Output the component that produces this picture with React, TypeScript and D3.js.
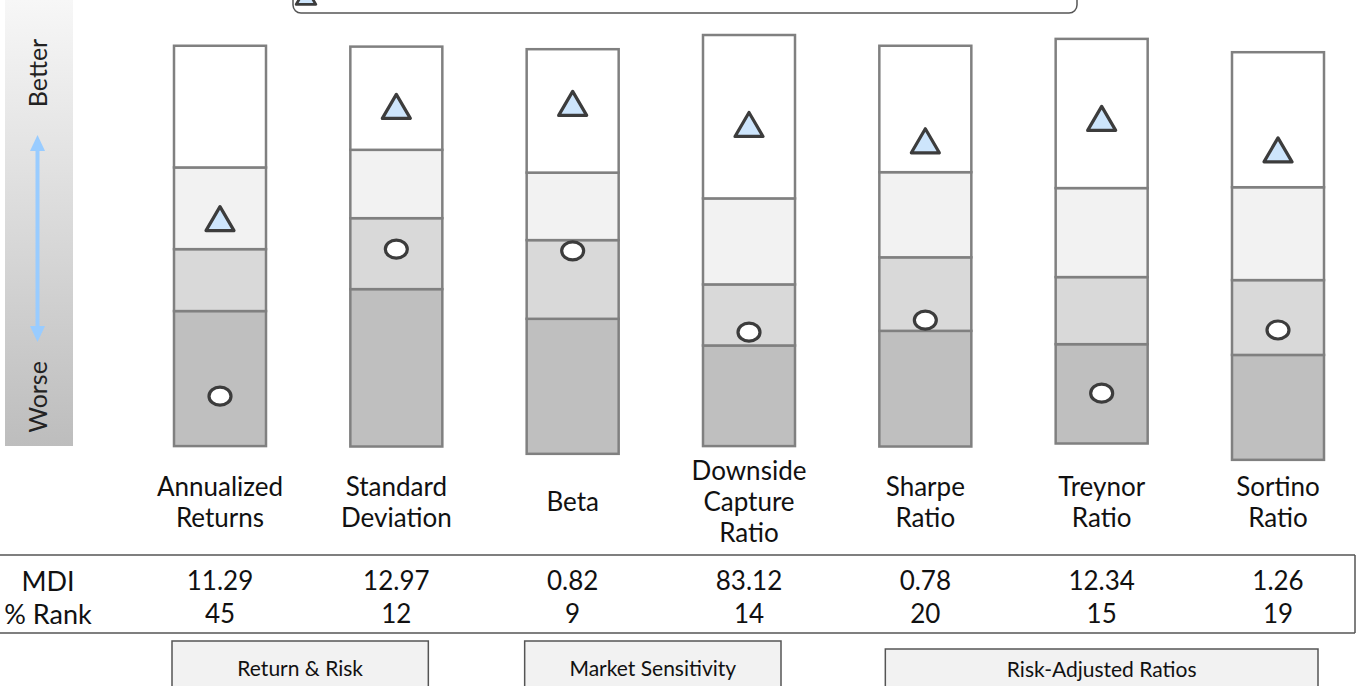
import React from "react";
import * as d3 from "d3";

// ---- Data ----
const metrics = [
  "Annualized Returns",
  "Standard Deviation",
  "Beta",
  "Downside Capture Ratio",
  "Sharpe Ratio",
  "Treynor Ratio",
  "Sortino Ratio",
];
const labelLines = [
  ["Annualized", "Returns"],
  ["Standard", "Deviation"],
  ["Beta"],
  ["Downside", "Capture", "Ratio"],
  ["Sharpe", "Ratio"],
  ["Treynor", "Ratio"],
  ["Sortino", "Ratio"],
];
// quartile band edges on a common 0–100 "better" scale
const bandBottom = [3.7, 3.6, 1.9, 3.7, 3.6, 4.3, 0.5];
const bandQ3 = [35.1, 40.2, 33.3, 27.1, 30.5, 27.4, 24.9];
const bandQ2 = [49.5, 56.7, 51.6, 41.3, 47.6, 43.0, 42.3];
const bandQ1 = [68.5, 72.6, 67.3, 61.3, 67.4, 63.7, 63.9];
const bandTop = [96.8, 96.6, 96.0, 99.3, 96.8, 98.4, 95.3];
const fundPos = [56.6, 82.7, 83.4, 78.5, 74.7, 79.9, 72.6];
const peerPos = [15.3, 49.5, 49.1, 30.2, 33.0, 16.0, 30.7];
const mdiValues = ["11.29", "12.97", "0.82", "83.12", "0.78", "12.34", "1.26"];
const pctRank = ["45", "12", "9", "14", "20", "15", "19"];
const rowLabels = ["MDI", "% Rank"];
const groupNames = ["Return & Risk", "Market Sensitivity", "Risk-Adjusted Ratios"];
const groupFirst = [0, 2, 4];
const groupLast = [1, 3, 6];
const legendLabel = "Fund Ranking";

const bandFills = ["#bfbfbf", "#d9d9d9", "#f2f2f2", "#ffffff"];
const FONT = "Lato, 'Noto Sans', sans-serif";

export default function App() {
  const W = 1361;
  const H = 686;
  const x = d3.scalePoint<string>().domain(metrics).range([220, 1278]);
  const y = d3.scaleLinear().domain([0, 100]).range([462, 32]);
  const colW = 92;
  const step = x.step();

  const triPath = "M0,-12L14,12L-14,12Z";

  return (
    <svg
      width={W}
      height={H}
      style={{ position: "absolute", left: 0, top: 0, background: "#fff" }}
      fontFamily={FONT}
    >
      <defs>
        <linearGradient id="bw" x1="0" y1="0" x2="0" y2="1">
          <stop offset="0%" stopColor="#f7f7f7" />
          <stop offset="100%" stopColor="#bdbdbd" />
        </linearGradient>
      </defs>

      {/* legend box (cut at top) */}
      <g>
        <rect x={293} y={-40} width={784} height={53} rx={8} fill="#fff" stroke="#555" strokeWidth={1.5} />
        <path d={triPath} transform="translate(306,-4) scale(0.7)" fill="#cde5fc" stroke="#3c3c3c" strokeWidth={4} strokeLinejoin="round" />
        <text x={690} y={-4} textAnchor="end" fontSize={22} fill="#222">{legendLabel}</text>
      </g>

      {/* better / worse gradient */}
      <rect x={5} y={0} width={68} height={446} fill="url(#bw)" />
      <text transform="translate(47,73) rotate(-90)" textAnchor="middle" fontSize={25} fill="#222">Better</text>
      <text transform="translate(47,397) rotate(-90)" textAnchor="middle" fontSize={25} fill="#222">Worse</text>
      <line x1={37.5} x2={37.5} y1={148} y2={329} stroke="#99ccff" strokeWidth={4} />
      <path d="M37.5,135L45,151L30,151Z" fill="#99ccff" />
      <path d="M37.5,342L45,326L30,326Z" fill="#99ccff" />

      {/* columns */}
      {metrics.map((m, i) => {
        const cx = x(m) as number;
        const edges = [bandBottom[i], bandQ3[i], bandQ2[i], bandQ1[i], bandTop[i]];
        return (
          <g key={m}>
            {bandFills.map((f, k) => (
              <rect
                key={k}
                x={cx - colW / 2}
                y={y(edges[k + 1])}
                width={colW}
                height={y(edges[k]) - y(edges[k + 1])}
                fill={f}
                stroke="#808080"
                strokeWidth={2.5}
              />
            ))}
            <path
              d={triPath}
              transform={`translate(${cx},${y(fundPos[i])})`}
              fill="#cde5fc"
              stroke="#3c3c3c"
              strokeWidth={3.2}
              strokeLinejoin="round"
            />
            <ellipse
              cx={cx}
              cy={y(peerPos[i])}
              rx={11}
              ry={9}
              fill="#fff"
              stroke="#3c3c3c"
              strokeWidth={3.2}
            />
            <text textAnchor="middle" fontSize={26} fill="#111">
              {labelLines[i].map((ln, j) => (
                <tspan
                  key={j}
                  x={cx}
                  y={501 + (j - (labelLines[i].length - 1) / 2) * 31}
                  dominantBaseline="central"
                >
                  {ln}
                </tspan>
              ))}
            </text>
          </g>
        );
      })}

      {/* table */}
      <line x1={0} x2={1355} y1={555} y2={555} stroke="#555" strokeWidth={1.5} />
      <line x1={0} x2={1355} y1={633} y2={633} stroke="#555" strokeWidth={1.5} />
      <line x1={1355} x2={1355} y1={555} y2={633} stroke="#555" strokeWidth={1.5} />
      {rowLabels.map((r, ri) => (
        <text key={r} x={48} y={580 + ri * 33} textAnchor="middle" dominantBaseline="central" fontSize={27} fill="#111">
          {r}
        </text>
      ))}
      {metrics.map((m, i) => (
        <g key={m + "t"}>
          <text x={x(m)} y={580} textAnchor="middle" dominantBaseline="central" fontSize={26} fill="#111">
            {mdiValues[i]}
          </text>
          <text x={x(m)} y={613} textAnchor="middle" dominantBaseline="central" fontSize={26} fill="#111">
            {pctRank[i]}
          </text>
        </g>
      ))}

      {/* group boxes */}
      {groupNames.map((g, gi) => {
        const a = x(metrics[groupFirst[gi]]) as number;
        const n = groupLast[gi] - groupFirst[gi];
        const w = n * step + 80;
        const left = a - 48 + (n > 1 ? 8 : 0);
        const top = gi === 2 ? 649 : 641;
        return (
          <g key={g}>
            <rect x={left} y={top} width={w} height={80} fill="#f2f2f2" stroke="#555" strokeWidth={1.5} />
            <text x={left + w / 2} y={top + (gi === 2 ? 19 : 26)} textAnchor="middle" dominantBaseline="central" fontSize={21} fill="#111">
              {g}
            </text>
          </g>
        );
      })}
    </svg>
  );
}
